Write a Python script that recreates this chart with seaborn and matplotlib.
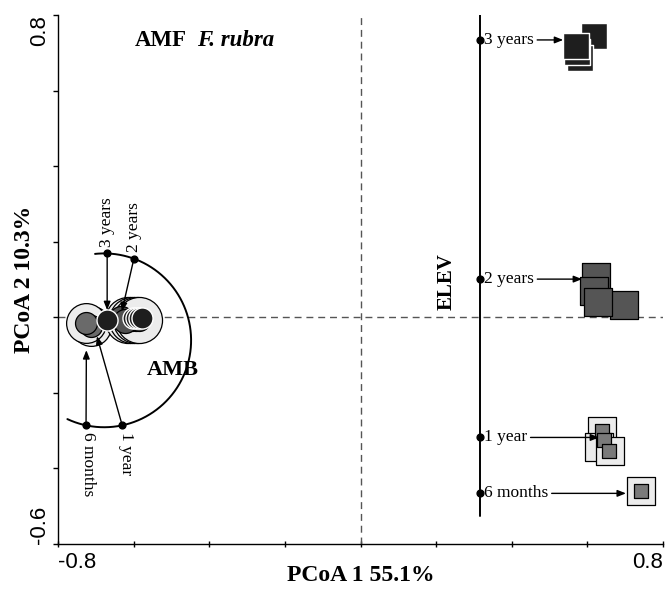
import numpy as np
import matplotlib
matplotlib.use("Agg")
import matplotlib.pyplot as plt
import seaborn as sns

sns.set_style("ticks")
plt.rcParams["font.family"] = ["Liberation Serif", "DejaVu Serif"]
plt.rcParams["text.color"] = "black"
plt.rcParams["axes.labelcolor"] = "black"
plt.rcParams["xtick.color"] = "black"
plt.rcParams["ytick.color"] = "black"

# ---------------- data ----------------
x_ticks = [-0.8, -0.6, -0.4, -0.2, 0.0, 0.2, 0.4, 0.6, 0.8]
x_tick_labels = ["-0.8", "", "", "", "", "", "", "", "0.8"]
y_ticks = [-0.6, -0.4, -0.2, 0.0, 0.2, 0.4, 0.6, 0.8]
y_tick_labels = ["-0.6", "", "", "", "", "", "", "0.8"]

# AMB samples (circles)
amb_6m_x = [-0.713, -0.727]
amb_6m_y = [-0.024, -0.016]
amb_1y_x = [-0.615, -0.604, -0.594, -0.586]
amb_1y_y = [-0.008, -0.008, -0.008, -0.008]
amb_2y_x = [-0.633, -0.623]
amb_2y_y = [-0.003, -0.011]
amb_3y_x = [-0.670, -0.602, -0.594, -0.586, -0.577]
amb_3y_y = [-0.008, -0.003, -0.003, -0.003, -0.003]

# ELEV samples (squares)
elev_6m_x = [0.742]
elev_6m_y = [-0.461]
elev_1y_x = [0.639, 0.631, 0.660]
elev_1y_y = [-0.302, -0.342, -0.353]
elev_1y_in_x = [0.639, 0.644, 0.658]
elev_1y_in_y = [-0.302, -0.326, -0.353]
elev_2y_x = [0.623, 0.618, 0.697, 0.628]
elev_2y_y = [0.106, 0.069, 0.032, 0.040]
elev_3y_x = [0.618, 0.581, 0.573, 0.570]
elev_3y_y = [0.745, 0.687, 0.703, 0.719]

time_labels = ["6 months", "1 year", "2 years", "3 years"]

# AMB time axis (arc)
amb_arc_center = (-0.678, -0.061)
amb_arc_radius = 0.23
amb_arc_span = (-115, 96)
amb_time_angles = [-102, -78, 70, 88]
amb_arrow_tip_x = [-0.725, -0.697, -0.631, -0.670]
amb_arrow_tip_y = [-0.087, -0.050, 0.016, 0.019]

# ELEV time axis (vertical line)
elev_axis_x = 0.316
elev_axis_span = (-0.525, 0.8)
elev_time_y = [-0.466, -0.318, 0.101, 0.734]
elev_arrow_tip_x = [0.702, 0.631, 0.586, 0.536]

# ---------------- figure ----------------
fig = plt.figure(figsize=(6.65, 5.92), dpi=100)
ax = fig.add_axes([58 / 665, 48 / 592, 605 / 665, 529 / 592])
ax.set_xlim(-0.8, 0.8)
ax.set_ylim(-0.6, 0.8)

# reference dashed lines
ax.axhline(0, color="#555555", lw=1.0, ls=(0, (5, 3.5)), zorder=1)
ax.axvline(0, color="#555555", lw=1.0, ls=(0, (5, 3.5)), zorder=1)

LIGHT = "#ececec"
MID = "#6a6a6a"
DARK = "#505050"
BLACK = "#1e1e1e"

# ---- AMB circles ----
sns.scatterplot(x=amb_6m_x, y=amb_6m_y, s=820, marker="o", color=LIGHT,
                edgecolor="black", linewidth=0.9, ax=ax, zorder=3)
sns.scatterplot(x=amb_1y_x, y=amb_1y_y, s=1100, marker="o", color=LIGHT,
                edgecolor="black", linewidth=0.9, ax=ax, zorder=3)
sns.scatterplot(x=amb_6m_x, y=amb_6m_y, s=250, marker="o", color=MID,
                edgecolor="black", linewidth=0.9, ax=ax, zorder=4)
sns.scatterplot(x=amb_1y_x, y=amb_1y_y, s=250, marker="o", color=DARK,
                edgecolor="black", linewidth=0.9, ax=ax, zorder=4)
sns.scatterplot(x=amb_2y_x, y=amb_2y_y, s=300, marker="o", color=DARK,
                edgecolor="black", linewidth=0.9, ax=ax, zorder=5)
sns.scatterplot(x=amb_3y_x, y=amb_3y_y, s=230, marker="o", color=BLACK,
                edgecolor="white", linewidth=1.0, ax=ax, zorder=6)

# ---- ELEV squares ----
sns.scatterplot(x=elev_6m_x, y=elev_6m_y, s=400, marker="s", color=LIGHT,
                edgecolor="black", linewidth=0.9, ax=ax, zorder=3)
sns.scatterplot(x=elev_1y_x, y=elev_1y_y, s=400, marker="s", color=LIGHT,
                edgecolor="black", linewidth=0.9, ax=ax, zorder=3)
sns.scatterplot(x=elev_6m_x, y=elev_6m_y, s=100, marker="s", color="#7a7a7a",
                edgecolor="black", linewidth=0.9, ax=ax, zorder=4)
sns.scatterplot(x=elev_1y_in_x, y=elev_1y_in_y, s=100, marker="s", color="#7a7a7a",
                edgecolor="black", linewidth=0.9, ax=ax, zorder=4)
sns.scatterplot(x=elev_2y_x, y=elev_2y_y, s=380, marker="s", color="#555555",
                edgecolor="black", linewidth=0.9, ax=ax, zorder=5)
sns.scatterplot(x=elev_3y_x, y=elev_3y_y, s=360, marker="s", color=BLACK,
                edgecolor="white", linewidth=1.0, ax=ax, zorder=6)

# ---- AMB arc time axis ----
cx, cy = amb_arc_center
theta = np.radians(np.linspace(amb_arc_span[0], amb_arc_span[1], 300))
ax.plot(cx + amb_arc_radius * np.cos(theta), cy + amb_arc_radius * np.sin(theta),
        color="black", lw=1.4, zorder=2)
ang = np.radians(amb_time_angles)
amb_pt_x = cx + amb_arc_radius * np.cos(ang)
amb_pt_y = cy + amb_arc_radius * np.sin(ang)
ax.scatter(amb_pt_x, amb_pt_y, s=24, color="black", zorder=7)
label_offsets = [(1.5, -5), (3, -5), (0, 5), (0, 5)]
for i, lab in enumerate(time_labels):
    ax.annotate("", xy=(amb_arrow_tip_x[i], amb_arrow_tip_y[i]),
                xytext=(amb_pt_x[i], amb_pt_y[i]),
                arrowprops=dict(arrowstyle="-|>,head_length=0.5,head_width=0.2",
                                color="black", lw=1.0, shrinkA=0, shrinkB=0,
                                mutation_scale=10),
                zorder=8)
    below = amb_pt_y[i] < cy
    ax.annotate(lab, xy=(amb_pt_x[i], amb_pt_y[i]), xytext=label_offsets[i],
                textcoords="offset points", rotation=270 if below else 90,
                ha="center", va="top" if below else "bottom", fontsize=12.5,
                zorder=8)

# ---- ELEV vertical time axis ----
ax.plot([elev_axis_x, elev_axis_x], list(elev_axis_span), color="black", lw=1.4, zorder=2)
ax.scatter([elev_axis_x] * len(elev_time_y), elev_time_y, s=24, color="black", zorder=7)
for i, lab in enumerate(time_labels):
    ax.annotate(lab, xy=(elev_arrow_tip_x[i], elev_time_y[i]),
                xytext=(elev_axis_x + 0.011, elev_time_y[i]),
                ha="left", va="center", fontsize=12.5,
                arrowprops=dict(arrowstyle="-|>,head_length=0.5,head_width=0.2",
                                color="black", lw=1.0, shrinkA=0, shrinkB=0,
                                mutation_scale=10),
                zorder=8)

# ---- annotations ----
ax.text(-0.5964, 0.718, "AMF", fontsize=16.5, fontweight="bold", va="baseline", ha="left")
ax.text(-0.4324, 0.718, "F. rubra", fontsize=16.5, fontweight="bold", fontstyle="italic",
        va="baseline", ha="left")
ax.text(-0.5646, -0.1536, "AMB", fontsize=16, fontweight="bold", va="baseline", ha="left")
ax.text(0.2288, 0.0954, "ELEV", fontsize=15, fontweight="bold", rotation=90,
        ha="center", va="center")

# ---- axes styling ----
for side in ["top", "right"]:
    ax.spines[side].set_visible(False)
for side in ["left", "bottom"]:
    ax.spines[side].set_color("black")
    ax.spines[side].set_linewidth(1.0)

ax.set_xticks(x_ticks)
ax.set_xticklabels(x_tick_labels, fontsize=16, family=["Liberation Sans", "DejaVu Sans"])
ax.set_yticks(y_ticks)
ax.set_yticklabels(y_tick_labels, fontsize=16, family=["Liberation Sans", "DejaVu Sans"],
                   rotation=90)
ax.tick_params(axis="x", direction="inout", length=4, width=1, colors="black", pad=4)
ax.tick_params(axis="y", direction="out", length=3.6, width=1, colors="black", pad=2.2)
xl = ax.get_xticklabels()
xl[0].set_ha("left")
xl[-1].set_ha("right")
yl = ax.get_yticklabels()
yl[0].set_va("bottom")
yl[-1].set_va("top")

ax.set_xlabel("PCoA 1 55.1%", fontsize=17, fontweight="bold")
ax.set_ylabel("PCoA 2 10.3%", fontsize=17, fontweight="bold")
ax.xaxis.set_label_coords(0.5, -0.039)
ax.yaxis.set_label_coords(-0.038, 0.5)

fig.savefig("out.png", dpi=100)
